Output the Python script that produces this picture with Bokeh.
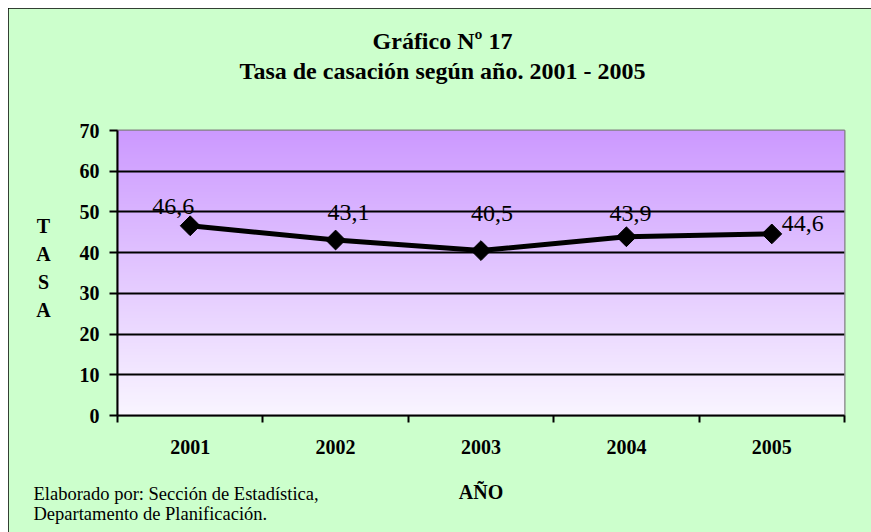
import numpy as np
from bokeh.plotting import figure
from bokeh.models import Range1d, FixedTicker, Label, ColumnDataSource
from bokeh.core.properties import value
from bokeh.embed import file_html
from bokeh.resources import INLINE

# ---- data ----
years = ["2001", "2002", "2003", "2004", "2005"]
tasa = [46.6, 43.1, 40.5, 43.9, 44.6]
y_ticks = [0, 10, 20, 30, 40, 50, 60, 70]

title1 = "Gráfico Nº 17"
title2 = "Tasa de casación según año. 2001 - 2005"
x_title = "AÑO"
y_title = "TASA"
footer1 = "Elaborado por: Sección de Estadística,"
footer2 = "Departamento de Planificación."

# label offsets (style, pixels)
label_dx = [-17, 13, 11, 4, 31]
label_dy = [-19, -28, -37, -23, -10]

SERIF = "Liberation Serif"
W, H = 863, 524
L, R, T, B = 109, 27, 122, 117

xs = list(range(1, len(years) + 1))

p = figure(width=W, height=H, output_backend="svg", toolbar_location=None,
           x_range=Range1d(0.5, len(years) + 0.5), y_range=Range1d(0, 70),
           min_border_left=L, min_border_right=R, min_border_top=T, min_border_bottom=B,
           tools="")
p.border_fill_color = "#CCFFCC"
p.background_fill_color = "#F5F0FF"
p.outline_line_color = "#808080"
p.outline_line_width = 2
p.styles = {"margin-left": "8px", "margin-top": "8px",
            "outline": "3px solid black", "outline-offset": "-3px"}

# smooth vertical gradient of the plot area
NR = 300
top_c = np.array([204, 153, 255])
bot_c = np.array([249, 245, 255])
img = np.empty((NR, 1), dtype=np.uint32)
view = img.view(dtype=np.uint8).reshape((NR, 1, 4))
for i in range(NR):
    f = i / (NR - 1)
    c = bot_c + (top_c - bot_c) * f
    view[i, 0, 0:3] = np.round(c).astype(np.uint8)
    view[i, 0, 3] = 255
p.image_rgba(image=[img], x=0.5, y=0, dw=len(years), dh=70, level="image")

# grid
p.xgrid.visible = False
p.ygrid.ticker = FixedTicker(ticks=y_ticks[1:-1])
p.ygrid.grid_line_color = "black"
p.ygrid.grid_line_width = 2

# x axis
xa = p.xaxis[0]
xa.ticker = FixedTicker(ticks=xs, minor_ticks=[x + 0.5 for x in [0] + xs])
xa.major_label_overrides = {x: y for x, y in zip(xs, years)}
xa.major_tick_out = 0
xa.major_tick_in = 0
xa.minor_tick_out = 7
xa.minor_tick_in = 0
xa.minor_tick_line_color = "black"
xa.minor_tick_line_width = 2
xa.axis_line_color = "black"
xa.axis_line_width = 2
xa.major_label_text_font = SERIF
xa.major_label_text_font_style = "bold"
xa.major_label_text_font_size = "20px"
xa.major_label_text_color = "black"
xa.major_label_standoff = 17
xa.axis_label = x_title
xa.axis_label_text_font = SERIF
xa.axis_label_text_font_style = "bold"
xa.axis_label_text_font_size = "20px"
xa.axis_label_text_color = "black"
xa.axis_label_standoff = 24

# y axis
ya = p.yaxis[0]
ya.ticker = FixedTicker(ticks=y_ticks, minor_ticks=[])
ya.major_tick_out = 8
ya.major_tick_in = 0
ya.major_tick_line_color = "black"
ya.major_tick_line_width = 2
ya.axis_line_color = "black"
ya.axis_line_width = 2
ya.major_label_text_font = SERIF
ya.major_label_text_font_style = "bold"
ya.major_label_text_font_size = "20px"
ya.major_label_text_color = "black"
ya.major_label_standoff = 10

# series
src = ColumnDataSource(dict(
    x=xs, y=tasa,
    lbl=[f"{v:.1f}".replace(".", ",") for v in tasa],
    dx=label_dx, dy=label_dy))
p.line("x", "y", source=src, line_color="black", line_width=5)
p.scatter("x", "y", source=src, marker="square", size=14, angle=np.pi / 4,
          fill_color="black", line_color="black")
p.text("x", "y", text="lbl", source=src, x_offset="dx", y_offset="dy",
       text_font=value(SERIF), text_font_size="24px", text_color="black",
       text_align="center", text_baseline="middle")

# ---- transparent overlay for texts outside the plot frame ----
ov = figure(width=W, height=H, output_backend="svg", toolbar_location=None,
            x_range=Range1d(0, W), y_range=Range1d(H, 0),
            x_axis_type=None, y_axis_type=None, tools="",
            min_border=0, min_border_left=0, min_border_right=0,
            min_border_top=0, min_border_bottom=0)
ov.grid.visible = False
ov.outline_line_color = None
ov.background_fill_color = None
ov.border_fill_color = None
ov.styles = {"position": "absolute", "left": "8px", "top": "0px",
             "z-index": "10", "pointer-events": "none"}


def add_label(x, y, text, size, bold=True, align="center"):
    ov.add_layout(Label(x=x, y=y, text=text,
                        text_font=SERIF, text_font_size=size,
                        text_font_style="bold" if bold else "normal",
                        text_align=align, text_baseline="alphabetic",
                        text_color="black"))


add_label(434, 40, title1, "24px")
add_label(434, 70, title2, "24px")
for i, ch in enumerate(y_title):
    add_label(35, 225 + 28 * i, ch, "20px")
add_label(25, 493, footer1, "18.5px", bold=False, align="left")
add_label(25, 513, footer2, "18.5px", bold=False, align="left")

open("out.html", "w").write(file_html([p, ov], INLINE))
